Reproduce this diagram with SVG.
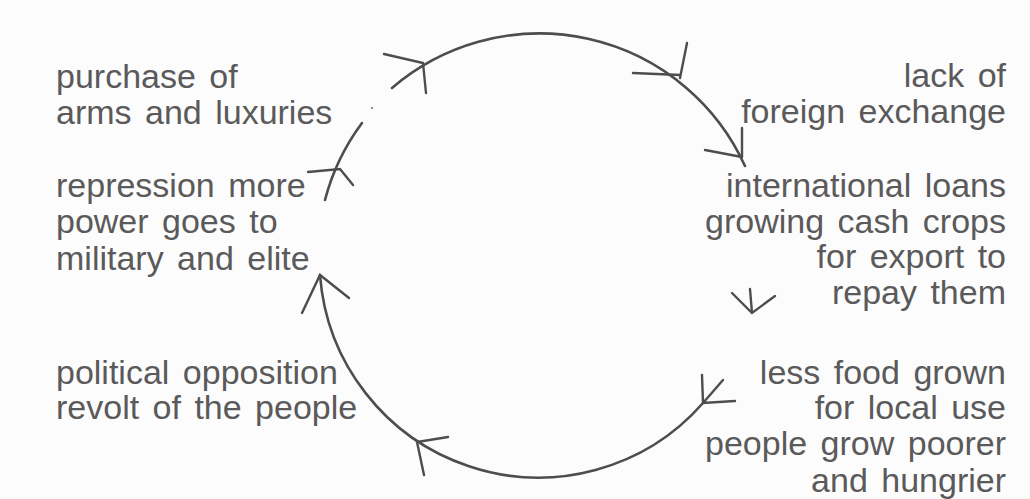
<svg xmlns="http://www.w3.org/2000/svg" width="1030" height="499" viewBox="0 0 1030 499">
  <style>
    .label { font-family: "Liberation Sans", Arial, Helvetica, sans-serif; font-size: 34px; fill: #5a5a5a; word-spacing: 4px; }
    .left { text-anchor: start; }
    .right { text-anchor: end; }
    .arc { fill: none; stroke: #4d4d4d; stroke-width: 2.6; stroke-linecap: round; }
    .barb { fill: none; stroke: #4d4d4d; stroke-width: 2.4; stroke-linecap: round; }
  </style>
  <rect width="1030" height="499" fill="#fdfcfd"/>

  <!-- cycle: hand-drawn circle with clockwise arrow marks -->
  <g id="connectors">
    <!-- upper left stroke and top arc -->
    <path class="arc" d="M325,200 A223,223 0 0 1 362,123"/>
    <circle cx="372" cy="108" r="1" fill="#6a6a6a"/>
    <path class="arc" d="M392,88 A226,226 0 0 1 745,166"/>
    <!-- bottom arc, right round to left -->
    <path class="arc" d="M703,403 A219,219 0 0 1 320,275"/>

    <!-- arrow marks -->
    <path class="barb" d="M384,54 L423,63 L426,93"/>
    <path class="barb" d="M633,73 L680,75 M687,43 L680,78"/>
    <path class="barb" d="M705,150 L742,157 M742,128 L742,157"/>
    <path class="barb" d="M732,293 L752,313 L775,296 M750,289 L752,313"/>
    <path class="barb" d="M702,375 L703,403 L735,401 M723,380 L703,403"/>
    <path class="barb" d="M448,437 L417,442 L424,475"/>
    <path class="barb" d="M302,313 L320,275 L349,298"/>
    <path class="barb" d="M308,172 L340,169 L353,185"/>
  </g>

  <g id="purchase">
    <text class="label left" x="56" y="88">purchase of</text>
    <text class="label left" x="56" y="124">arms and luxuries</text>
  </g>
  <g id="foreign-exchange">
    <text class="label right" x="1006" y="87">lack of</text>
    <text class="label right" x="1006" y="123">foreign exchange</text>
  </g>
  <g id="repression">
    <text class="label left" x="56" y="197">repression more</text>
    <text class="label left" x="56" y="233">power goes to</text>
    <text class="label left" x="56" y="270">military and elite</text>
  </g>
  <g id="loans">
    <text class="label right" x="1006" y="197">international loans</text>
    <text class="label right" x="1006" y="233">growing cash crops</text>
    <text class="label right" x="1006" y="268">for export to</text>
    <text class="label right" x="1006" y="304">repay them</text>
  </g>
  <g id="opposition">
    <text class="label left" x="56" y="384">political opposition</text>
    <text class="label left" x="56" y="419">revolt of the people</text>
  </g>
  <g id="less-food">
    <text class="label right" x="1006" y="384">less food grown</text>
    <text class="label right" x="1006" y="419">for local use</text>
    <text class="label right" x="1006" y="455">people grow poorer</text>
    <text class="label right" x="1006" y="492">and hungrier</text>
  </g>
</svg>
